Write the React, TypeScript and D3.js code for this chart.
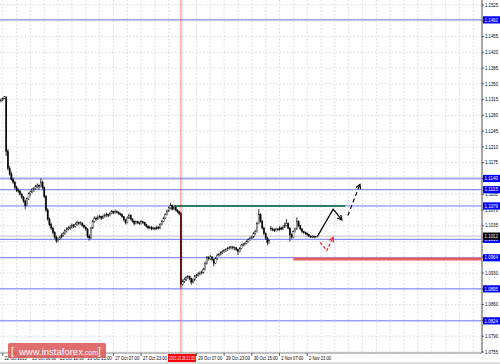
import React from "react";
import * as d3 from "d3";

const W = 500;
const H = 364;
const PLOT_RIGHT = 482;
const PLOT_BOTTOM = 353;

// prices are stored in pips relative to BASE (1 pip = 0.0001)
const BASE = 1.1;
// [open, high, low, close] hourly candles, pips vs 1.1000
const candles: [number, number, number, number][] = [
  [312,318,309,314],[314,320,312,318],[318,323,316,321],[321,322,190,200],[200,205,158,162],
  [162,168,146,150],[150,155,135,138],[138,142,128,132],[132,135,117,120],[120,124,110,114],
  [114,118,108,112],[112,115,102,105],[105,108,95,98],[98,101,86,90],[90,93,72,80],
  [80,98,78,95],[95,109,92,106],[106,113,102,110],[110,119,107,116],[116,121,110,118],
  [118,126,115,122],[122,129,118,125],[125,127,115,122],[122,140,120,132],[132,135,116,120],
  [120,122,96,100],[100,103,66,70],[70,74,46,50],[50,54,34,38],[38,42,26,30],
  [30,33,16,20],[20,23,6,10],[10,13,-3,2],[2,9,-1,5],[5,13,3,10],
  [10,18,7,14],[14,22,11,18],[18,27,15,24],[24,32,20,28],[28,34,25,30],
  [30,36,26,32],[32,40,29,36],[36,39,30,34],[34,42,31,38],[38,46,35,42],
  [42,44,36,40],[40,45,37,41],[41,43,33,36],[36,38,29,32],[32,34,24,28],
  [28,30,8,12],[12,16,2,8],[8,33,6,30],[30,48,28,45],[45,56,42,52],
  [52,55,46,50],[50,58,48,54],[54,59,51,55],[55,57,48,52],[52,60,50,56],
  [56,62,53,58],[58,64,55,60],[60,62,54,58],[58,66,56,62],[62,70,60,66],
  [66,68,61,64],[64,71,62,67],[67,69,62,65],[65,67,59,62],[62,64,57,60],
  [60,62,52,55],[55,57,45,48],[48,50,38,42],[42,56,40,52],[52,62,50,58],
  [58,60,47,50],[50,52,42,45],[45,47,36,40],[40,47,38,44],[44,46,39,42],
  [42,44,37,40],[40,48,38,44],[44,46,39,42],[42,44,35,38],[38,40,31,34],
  [34,36,27,30],[30,35,28,32],[32,34,25,28],[28,33,26,30],[30,32,25,28],
  [28,35,26,32],[32,34,27,30],[30,41,28,38],[38,48,36,45],[45,55,43,52],
  [52,63,50,60],[60,71,58,68],[68,78,65,75],[75,86,72,80],[80,82,69,72],
  [72,79,70,76],[76,78,67,70],[70,72,63,66],[66,68,58,62],[62,66,-104,-95],
  [-95,-84,-98,-88],[-88,-80,-92,-85],[-85,-76,-88,-80],[-80,-74,-84,-78],[-78,-76,-86,-82],
  [-82,-80,-96,-90],[-90,-82,-93,-85],[-85,-74,-88,-78],[-78,-72,-81,-75],[-75,-68,-78,-72],
  [-72,-66,-75,-70],[-70,-64,-73,-68],[-68,-58,-71,-62],[-62,-44,-64,-48],[-48,-32,-51,-36],
  [-36,-33,-42,-38],[-38,-30,-41,-34],[-34,-32,-44,-40],[-40,-38,-55,-48],[-48,-35,-50,-38],
  [-38,-27,-41,-30],[-30,-25,-33,-28],[-28,-22,-31,-25],[-25,-19,-28,-22],[-22,-17,-25,-20],
  [-20,-15,-23,-18],[-18,-12,-21,-15],[-15,-10,-18,-14],[-14,-9,-17,-12],[-12,-10,-18,-14],
  [-14,-11,-19,-14],[-14,-12,-21,-18],[-18,-16,-30,-22],[-22,-12,-24,-15],[-15,-5,-17,-8],
  [-8,-3,-11,-6],[-6,-1,-9,-4],[-4,3,-6,0],[0,7,-2,4],[4,11,2,8],
  [8,13,5,10],[10,21,8,18],[18,26,15,22],[22,44,20,40],[40,72,38,60],
  [60,63,42,45],[45,48,27,30],[30,33,14,18],[18,20,4,8],[8,10,-8,-2],
  [-2,5,-5,2],[30,34,24,28],[28,31,23,26],[26,29,21,24],[24,31,22,28],
  [28,30,23,26],[26,34,24,30],[30,33,25,28],[28,36,26,32],[32,42,30,36],
  [36,50,34,40],[40,42,27,30],[30,32,0,15],[15,18,6,10],[10,25,8,22],
  [22,31,20,28],[28,54,26,45],[45,47,32,35],[35,37,25,28],[28,30,19,22],
  [22,24,17,20],[20,22,15,18],[18,20,12,15],[15,17,9,12],[12,14,8,10],
  [10,14,8,12],[12,13,7,10],[10,13,8,11],[11,14,9,12],
];

const yTicks = [
  1.1525, 1.149, 1.1455, 1.142, 1.1385, 1.135, 1.1315, 1.128, 1.1245, 1.121, 1.1175, 1.114,
  1.1105, 1.107, 1.1035, 1.1, 1.0965, 1.093, 1.0895, 1.086, 1.0825, 1.079, 1.0755,
];

const xLabelBars = [1, 17, 33, 49, 65, 81, 113, 129, 145, 161, 177];
const xLabelTexts = [
  "22 Oct 2015", "23 Oct 06:00", "23 Oct 22:00", "26 Oct 15:00", "27 Oct 07:00", "27 Oct 23:00",
  "29 Oct 07:00", "29 Oct 23:00", "30 Oct 15:00", "2 Nov 07:00", "2 Nov 23:00",
];

const markerBar = 104;
const markerText = "2015.10.28 21:00";

const blueLevels = [1.1492, 1.1115, 1.1079, 1.1005, 1.0964, 1.0895, 1.0824];
const lavenderLevel = 1.114;
const bidLevel = 1.1012;
const greenLevel = { price: 1.1079, from: 100, to: 199 };
const redLevel = { price: 1.0961, from: 169 };

const solidArrow: [number, number][] = [[183, 1.1012], [192, 1.1072], [197, 1.1048]];
const dashedArrow: [number, number][] = [[200.5, 1.1058], [207.5, 1.1127]];
const redArrow: [number, number][] = [[184.5, 1.0998], [188.3, 1.098], [192, 1.1009]];

const FONT = "'Liberation Sans', 'DejaVu Sans', sans-serif";

function arrowHead(p0: [number, number], p1: [number, number], len = 5, ang = 0.5) {
  const a = Math.atan2(p1[1] - p0[1], p1[0] - p0[0]);
  const l = [p1[0] - len * Math.cos(a - ang), p1[1] - len * Math.sin(a - ang)];
  const r = [p1[0] - len * Math.cos(a + ang), p1[1] - len * Math.sin(a + ang)];
  return `M${l[0]},${l[1]}L${p1[0]},${p1[1]}L${r[0]},${r[1]}`;
}

export default function App() {
  const x = d3.scaleLinear().domain([0, 1]).range([1, 2.73]);
  const y = d3.scaleLinear().domain([1.1525, 1.0755]).range([5, 351.94]);
  const py = (v: number) => y(BASE + v / 10000);
  const line = d3.line<[number, number]>().x((d) => x(d[0])).y((d) => y(d[1]));

  const vGrid = d3.range(1, 300, 8).map((b) => x(b)).filter((v) => v < PLOT_RIGHT);

  const pts = (a: [number, number][]) => a.map((d) => [x(d[0]), y(d[1])] as [number, number]);
  const sp = pts(solidArrow);
  const dp = pts(dashedArrow);
  const rp = pts(redArrow);

  const boxLabel = (price: number, fill: string, key: string) => {
    const yy = y(price);
    return (
      <g key={key}>
        <rect x={483} y={yy - 3.6} width={17} height={7.2} fill={fill} />
        <text
          x={484.5}
          y={yy + 1.7}
          fontSize={4.8}
          fill="#fff"
          fontFamily={FONT}
          textLength={13.5}
          lengthAdjust="spacingAndGlyphs"
        >
          {price.toFixed(4)}
        </text>
      </g>
    );
  };

  return (
    <div style={{ position: "absolute", left: 0, top: 0 }}>
      <svg width={W} height={H} style={{ display: "block", background: "#fff" }}>
        <rect x={0} y={0} width={W} height={H} fill="#fff" />
        {/* grid */}
        <g stroke="#c8c8c8" strokeWidth={0.7} strokeDasharray="1.5,2">
          {yTicks.map((t) => (
            <line key={"h" + t} x1={0} x2={PLOT_RIGHT} y1={y(t)} y2={y(t)} />
          ))}
          {vGrid.map((v) => (
            <line key={"v" + v} x1={v} x2={v} y1={0} y2={PLOT_BOTTOM} />
          ))}
        </g>
        {/* level lines */}
        {blueLevels.map((p) => (
          <line key={"b" + p} x1={0} x2={PLOT_RIGHT} y1={y(p)} y2={y(p)} stroke="#7474ff" strokeWidth={1} />
        ))}
        <line x1={0} x2={PLOT_RIGHT} y1={y(lavenderLevel)} y2={y(lavenderLevel)} stroke="#a8a8f0" strokeWidth={2} />
        <line x1={0} x2={PLOT_RIGHT} y1={y(bidLevel)} y2={y(bidLevel)} stroke="#c0c0c0" strokeWidth={1} />
        <line x1={x(greenLevel.from)} x2={x(greenLevel.to)} y1={y(greenLevel.price)} y2={y(greenLevel.price)} stroke="#2a8068" strokeWidth={2} />
        <line x1={x(redLevel.from)} x2={PLOT_RIGHT} y1={y(redLevel.price)} y2={y(redLevel.price)} stroke="#e26262" strokeWidth={3} />
        {/* candles */}
        <g>
          {candles.map((c, i) => {
            const [o, h, l, cl] = c;
            const cx = x(i);
            const top = py(Math.max(o, cl));
            const bot = py(Math.min(o, cl));
            return (
              <g key={i}>
                <line x1={cx} x2={cx} y1={py(h)} y2={py(l)} stroke="#000" strokeWidth={0.8} />
                <rect
                  x={cx - 0.65}
                  y={top}
                  width={1.3}
                  height={Math.max(0.6, bot - top)}
                  fill={cl >= o ? "#fff" : "#000"}
                  stroke="#000"
                  strokeWidth={0.35}
                />
              </g>
            );
          })}
        </g>
        {/* marker vertical line */}
        <line x1={x(markerBar)} x2={x(markerBar)} y1={0} y2={PLOT_BOTTOM} stroke="#ff0000" strokeOpacity={0.5} strokeWidth={1} />
        {/* annotations */}
        <path d={line(solidArrow) || ""} fill="none" stroke="#000" strokeWidth={1.2} />
        <path d={arrowHead(sp[1], sp[2])} fill="none" stroke="#000" strokeWidth={1.2} />
        <path d={line(dashedArrow) || ""} fill="none" stroke="#000" strokeWidth={1.2} strokeDasharray="4,3" />
        <path d={arrowHead(dp[0], dp[1])} fill="none" stroke="#000" strokeWidth={1.2} />
        <path d={line(redArrow) || ""} fill="none" stroke="#ff2020" strokeWidth={1.2} strokeDasharray="3,2" />
        <path d={arrowHead(rp[1], rp[2])} fill="none" stroke="#ff2020" strokeWidth={1.2} />
        {/* axes frame */}
        <line x1={PLOT_RIGHT} x2={PLOT_RIGHT} y1={0} y2={PLOT_BOTTOM} stroke="#888" strokeWidth={1.5} />
        <line x1={0} x2={PLOT_RIGHT} y1={PLOT_BOTTOM} y2={PLOT_BOTTOM} stroke="#888" strokeWidth={1} />
        <line x1={0} x2={W} y1={H - 1} y2={H - 1} stroke="#bbb" strokeWidth={1} />
        {/* y tick labels */}
        {yTicks.map((t) => (
          <g key={"t" + t}>
            <line x1={PLOT_RIGHT} x2={PLOT_RIGHT + 2} y1={y(t)} y2={y(t)} stroke="#000" strokeWidth={0.6} />
            <text
              x={485}
              y={y(t) + 1.7}
              fontSize={4.8}
              fill="#000"
              fontFamily={FONT}
              textLength={13}
              lengthAdjust="spacingAndGlyphs"
            >
              {t.toFixed(4)}
            </text>
          </g>
        ))}
        {/* level boxes */}
        {blueLevels.map((p) => boxLabel(p, "#0000ff", "bl" + p))}
        {boxLabel(lavenderLevel, "#0000ff", "lav")}
        {boxLabel(bidLevel, "#000000", "bid")}
        {/* x labels */}
        {xLabelBars.map((b, i) => (
          <g key={"x" + b}>
            <line x1={x(b)} x2={x(b)} y1={PLOT_BOTTOM} y2={PLOT_BOTTOM + 3} stroke="#000" strokeWidth={0.6} />
            <text
              x={x(b) + 1.8}
              y={360.3}
              fontSize={4.8}
              fill="#000"
              fontFamily={FONT}
              textLength={xLabelTexts[i].length * 2.0}
              lengthAdjust="spacingAndGlyphs"
            >
              {xLabelTexts[i]}
            </text>
          </g>
        ))}
        <rect x={x(markerBar) - 13} y={354} width={28} height={8} fill="#ff0000" />
        <text
          x={x(markerBar) - 12}
          y={360}
          fontSize={4.8}
          fill="#fff"
          fontFamily={FONT}
          textLength={26}
          lengthAdjust="spacingAndGlyphs"
        >
          {markerText}
        </text>
        {/* logo */}
        <rect x={8} y={343} width={98} height={15} rx={1.5} fill="#dc5a5a" fillOpacity={0.88} />
        <text x={11} y={354.5} fontSize={10} fill="#fff" fontFamily="'Liberation Sans', Arial, sans-serif">
          [
        </text>
        <text x={19} y={354.5} fontSize={9.5} fill="#fff" fontFamily="'Liberation Sans', Arial, sans-serif">
          www.instaforex
          <tspan fontSize={7}>.com</tspan>
        </text>
        <text x={98} y={354.5} fontSize={10} fill="#fff" fontFamily="'Liberation Sans', Arial, sans-serif">
          ]
        </text>
      </svg>
    </div>
  );
}
